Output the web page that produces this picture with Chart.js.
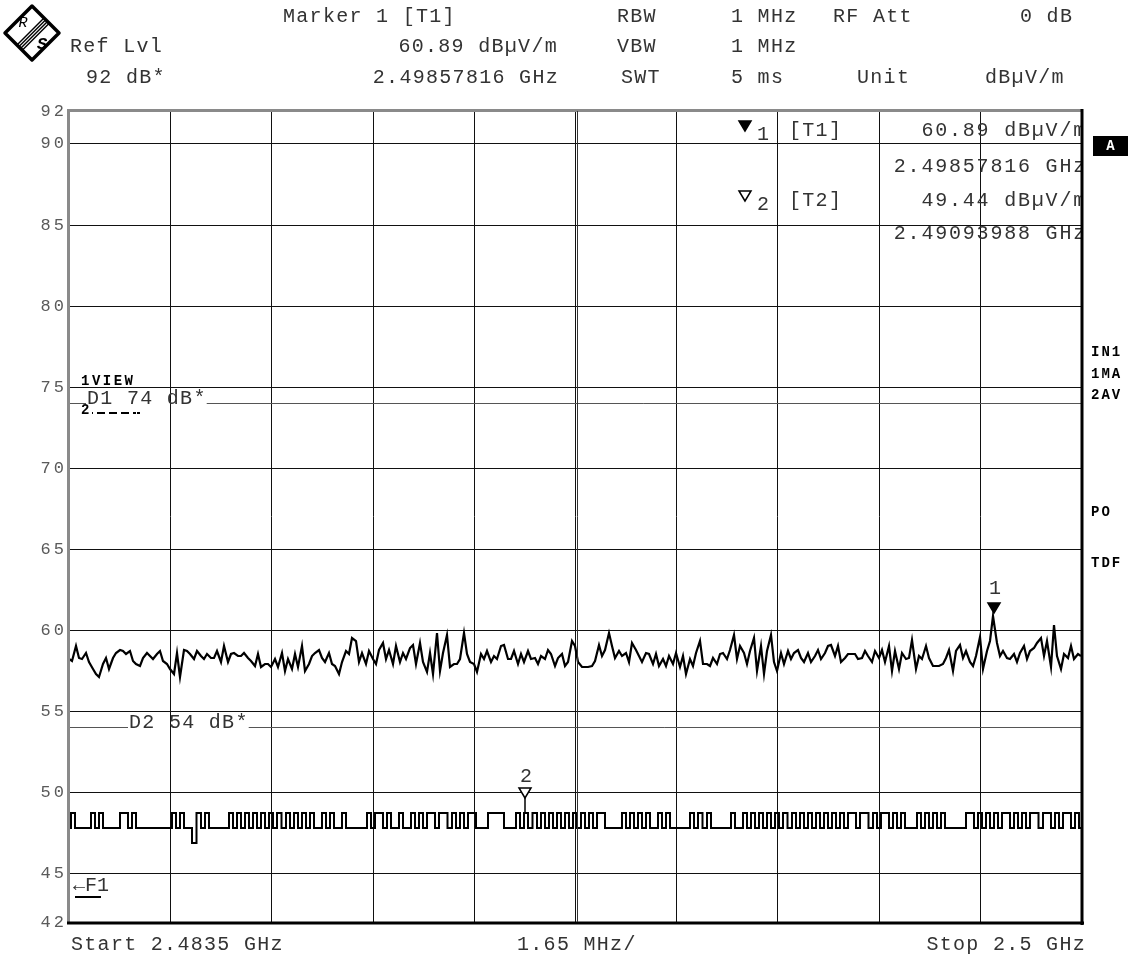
<!DOCTYPE html>
<html>
<head>
<meta charset="utf-8">
<script src="https://cdn.jsdelivr.net/npm/chart.js@4.4.1/dist/chart.umd.min.js"></script>
<style>
  html, body { margin: 0; padding: 0; background: #fff; }
  #wrap { width: 1138px; height: 962px; }
</style>
</head>
<body>
<div id="wrap"><canvas id="spectrum" width="1138" height="962"></canvas></div>
<script>
// sweep 2.4835 GHz .. 2.5 GHz, x values in MHz
const startMHz = 2483.5;
const stopMHz = 2500;
const xGrid = [2483.5, 2485.15, 2486.8, 2488.45, 2490.1, 2491.75, 2493.4, 2495.05, 2496.7, 2498.35, 2500];
const yTicks = [42, 45, 50, 55, 60, 65, 70, 75, 80, 85, 90, 92];

// trace 1 (max hold), dBuV/m, one value every 0.055 MHz
const trace1Step = 0.055;
const trace1 = [
  58.2, 58.1, 59.0, 58.3, 58.2, 58.6, 58.0, 57.6, 57.3, 57.1,
  57.9, 58.3, 57.6, 58.3, 58.6, 58.8, 58.7, 58.5, 58.7, 58.1,
  57.9, 57.8, 58.3, 58.6, 58.4, 58.2, 58.5, 58.7, 58.1, 57.9,
  57.6, 57.3, 58.6, 57.1, 58.8, 58.7, 58.5, 58.2, 58.7, 58.4,
  58.2, 58.5, 58.3, 58.3, 58.7, 58.0, 59.0, 58.0, 58.5, 58.6,
  58.4, 58.4, 58.6, 58.3, 58.1, 57.8, 58.5, 57.7, 57.9, 57.9,
  57.7, 58.2, 57.7, 58.6, 57.5, 58.2, 57.6, 58.5, 57.7, 59.0,
  57.5, 57.9, 58.4, 58.6, 58.8, 58.3, 58.0, 58.6, 57.9, 57.8,
  57.3, 58.0, 58.7, 58.5, 59.5, 59.3, 58.0, 58.6, 57.9, 58.7,
  58.2, 57.9, 58.8, 59.2, 58.2, 58.8, 57.9, 59.0, 58.0, 58.6,
  58.2, 58.9, 59.1, 57.9, 59.2, 58.0, 57.4, 58.6, 57.3, 59.8,
  57.5, 58.6, 59.7, 57.7, 57.9, 57.9, 58.2, 59.8, 58.5, 58.0,
  57.9, 57.4, 58.5, 58.2, 58.7, 58.0, 58.4, 58.2, 59.0, 59.1,
  58.2, 58.2, 58.7, 57.9, 58.5, 58.0, 58.7, 58.2, 58.3, 57.9,
  58.4, 58.2, 58.8, 58.5, 57.8, 58.3, 58.5, 57.8, 58.0, 59.3,
  59.0, 58.0, 57.7, 57.7, 57.7, 57.8, 58.1, 59.1, 58.4, 58.8,
  59.8, 59.0, 58.3, 58.7, 58.4, 58.6, 58.0, 59.2, 58.8, 58.4,
  58.0, 58.6, 58.5, 57.9, 58.5, 57.8, 58.2, 57.8, 58.4, 57.9,
  58.6, 57.7, 58.4, 57.3, 58.2, 57.8, 58.6, 59.3, 57.9, 57.9,
  57.8, 58.3, 57.9, 58.5, 58.6, 58.2, 58.8, 59.7, 58.2, 59.0,
  58.6, 57.9, 58.7, 59.5, 57.5, 59.0, 57.3, 58.7, 59.7, 58.0,
  57.5, 58.6, 57.9, 58.7, 58.2, 58.6, 58.8, 58.3, 58.0, 58.6,
  58.0, 58.4, 58.8, 58.2, 58.6, 59.0, 59.1, 58.4, 59.0, 58.0,
  58.3, 58.5, 58.5, 58.5, 58.2, 58.3, 58.7, 58.4, 58.0, 58.7,
  58.3, 58.8, 58.0, 59.0, 57.5, 58.7, 57.6, 58.6, 58.2, 58.3,
  59.4, 57.6, 58.4, 58.2, 59.0, 58.3, 57.8, 57.8, 57.8, 57.9,
  58.3, 58.8, 57.5, 58.7, 59.1, 58.3, 58.7, 58.0, 57.8, 58.4,
  59.6, 57.6, 58.7, 59.3, 60.89, 59.2, 58.4, 58.7, 58.3, 58.2,
  58.5, 58.0, 58.6, 59.0, 58.2, 58.7, 58.9, 59.2, 59.5, 58.4,
  59.3, 57.7, 60.3, 58.4, 57.6, 58.5, 58.3, 59.0, 58.2, 58.5,
  58.4
];

// trace 2 (average), dBuV/m, one value every 0.066 MHz
const trace2Step = 0.066;
const trace2 = [
  47.8, 48.7, 47.8, 47.8, 47.8, 47.8, 48.7, 47.8, 48.7, 47.8,
  47.8, 47.8, 47.8, 48.7, 48.7, 47.8, 48.7, 47.8, 47.8, 47.8,
  47.8, 47.8, 47.8, 47.8, 47.8, 47.8, 48.7, 47.8, 48.7, 47.8,
  47.8, 46.9, 48.7, 47.8, 48.7, 47.8, 47.8, 47.8, 47.8, 47.8,
  48.7, 47.8, 48.7, 47.8, 48.7, 47.8, 48.7, 47.8, 48.7, 47.8,
  48.7, 47.8, 48.7, 47.8, 48.7, 47.8, 48.7, 47.8, 48.7, 47.8,
  48.7, 47.8, 47.8, 48.7, 47.8, 48.7, 47.8, 47.8, 48.7, 47.8,
  47.8, 47.8, 47.8, 47.8, 48.7, 47.8, 48.7, 48.7, 47.8, 48.7,
  47.8, 47.8, 48.7, 47.8, 47.8, 48.7, 47.8, 48.7, 47.8, 48.7,
  48.7, 47.8, 48.7, 48.7, 47.8, 48.7, 47.8, 48.7, 47.8, 48.7,
  48.7, 47.8, 47.8, 47.8, 48.7, 48.7, 48.7, 48.7, 47.8, 47.8,
  47.8, 48.7, 47.8, 48.7, 47.8, 48.7, 47.8, 48.7, 47.8, 48.7,
  47.8, 48.7, 47.8, 48.7, 47.8, 48.7, 47.8, 48.7, 47.8, 48.7,
  47.8, 48.7, 48.7, 47.8, 47.8, 47.8, 47.8, 48.7, 47.8, 48.7,
  47.8, 48.7, 47.8, 48.7, 47.8, 47.8, 48.7, 47.8, 48.7, 47.8,
  47.8, 47.8, 47.8, 47.8, 48.7, 47.8, 48.7, 47.8, 48.7, 47.8,
  47.8, 47.8, 47.8, 47.8, 48.7, 47.8, 47.8, 48.7, 47.8, 48.7,
  47.8, 48.7, 47.8, 48.7, 47.8, 48.7, 47.8, 48.7, 47.8, 48.7,
  47.8, 48.7, 47.8, 48.7, 47.8, 48.7, 47.8, 48.7, 47.8, 48.7,
  47.8, 48.7, 47.8, 48.7, 48.7, 47.8, 48.7, 48.7, 47.8, 48.7,
  47.8, 48.7, 48.7, 47.8, 48.7, 47.8, 48.7, 47.8, 47.8, 47.8,
  48.7, 47.8, 48.7, 47.8, 48.7, 47.8, 48.7, 47.8, 47.8, 47.8,
  47.8, 47.8, 48.7, 48.7, 47.8, 48.7, 47.8, 48.7, 47.8, 48.7,
  47.8, 48.7, 48.7, 47.8, 48.7, 47.8, 48.7, 47.8, 48.7, 48.7,
  47.8, 48.7, 48.7, 47.8, 48.7, 47.8, 48.7, 48.7, 47.8, 48.7,
  47.8
];

// markers 1 and 2, display lines D1 / D2
const markerFreq = [2498.57816, 2490.93988];
const markerLevel = [60.89, 49.44];
const displayLines = [74, 54];

const MONO = '"Liberation Mono", "DejaVu Sans Mono", monospace';
const TXT = "#333";
const BODY = "20px " + MONO;

function text(ctx, s, x, y, align, font, color, spacing) {
  ctx.font = font || BODY;
  ctx.fillStyle = color || TXT;
  ctx.textAlign = align || "left";
  ctx.textBaseline = "middle";
  ctx.letterSpacing = spacing || "1.3px";
  ctx.fillText(s, x, y);
  return ctx.measureText(s).width;
}

function triangle(ctx, x, tipY, filled) {
  ctx.beginPath();
  ctx.moveTo(x, tipY);
  ctx.lineTo(x - 6, tipY - 10);
  ctx.lineTo(x + 6, tipY - 10);
  ctx.closePath();
  ctx.lineWidth = 1.5;
  ctx.strokeStyle = "#000";
  ctx.fillStyle = filled ? "#000" : "#fff";
  ctx.fill();
  ctx.stroke();
}

function drawLogo(ctx) {
  const cx = 32, cy = 33, r = 27;
  ctx.save();
  ctx.strokeStyle = "#000";
  ctx.lineWidth = 3.5;
  ctx.lineJoin = "round";
  ctx.beginPath();
  ctx.moveTo(cx, cy - r); ctx.lineTo(cx + r, cy); ctx.lineTo(cx, cy + r); ctx.lineTo(cx - r, cy);
  ctx.closePath();
  ctx.stroke();
  ctx.lineWidth = 1.4;
  [-5, -1.5, 2, 5.5].forEach(d => {
    const c = cx + cy + d;
    ctx.beginPath();
    ctx.moveTo((c + 26) / 2 + 1, (c - 26) / 2 + 1);
    ctx.lineTo((c - 28) / 2 + 1, (c + 28) / 2 + 1);
    ctx.stroke();
  });
  ctx.restore();
  text(ctx, "R", 23, 23, "center", "italic 15px " + MONO, "#000", "0px");
  text(ctx, "S", 42, 45, "center", "italic bold 17px " + MONO, "#000", "0px");
}

const screenPlugin = {
  id: "screen",
  beforeDraw(chart) {
    const ctx = chart.ctx;
    ctx.save();
    ctx.fillStyle = "#fff";
    ctx.fillRect(0, 0, chart.width, chart.height);
    ctx.restore();
    ctx.letterSpacing = "3px";
  },
  afterDraw(chart) {
    const ctx = chart.ctx;
    const a = chart.chartArea;
    const xs = chart.scales.x, ys = chart.scales.y;
    ctx.save();

    // display lines D1 / D2 with their labels
    const dl = [["D1 74 dB*", 87], ["D2 54 dB*", 129]];
    displayLines.forEach((lvl, k) => {
      const y = Math.round(ys.getPixelForValue(lvl)) + 0.5;
      ctx.font = BODY;
      ctx.letterSpacing = "1.3px";
      const w = ctx.measureText(dl[k][0]).width;
      ctx.strokeStyle = "#555";
      ctx.lineWidth = 1;
      ctx.beginPath();
      ctx.moveTo(a.left, y); ctx.lineTo(dl[k][1] - 1, y);
      ctx.moveTo(dl[k][1] + w, y); ctx.lineTo(a.right, y);
      ctx.stroke();
      text(ctx, dl[k][0], dl[k][1], y - 5);
    });

    // trace labels at the left
    text(ctx, "1VIEW", 81, 381, "left", "bold 14px " + MONO, "#000", "2.5px");
    text(ctx, "2", 81, 410, "left", "bold 14px " + MONO, "#000", "0px");
    ctx.strokeStyle = "#000";
    ctx.lineWidth = 2;
    ctx.setLineDash([1, 4, 8, 4, 8, 4, 8, 4, 3]);
    ctx.beginPath(); ctx.moveTo(92, 413); ctx.lineTo(140, 413); ctx.stroke();
    ctx.setLineDash([]);

    // frequency line F1
    text(ctx, "\u2190F1", 73, 886, "left", BODY, TXT, "0px");
    ctx.fillStyle = "#000";
    ctx.fillRect(75, 896, 26, 2);

    // markers on the traces
    const m1x = xs.getPixelForValue(markerFreq[0]);
    const m1y = ys.getPixelForValue(markerLevel[0]);
    triangle(ctx, m1x, m1y - 3, true);
    text(ctx, "1", m1x + 1, m1y - 27, "center", BODY, TXT, "0px");
    const m2x = xs.getPixelForValue(markerFreq[1]);
    const m2y = ys.getPixelForValue(markerLevel[1]);
    const m2i = Math.round((markerFreq[1] - startMHz) / trace2Step);
    ctx.strokeStyle = "#000";
    ctx.lineWidth = 1.5;
    ctx.beginPath();
    ctx.moveTo(m2x, m2y - 3);
    ctx.lineTo(m2x, ys.getPixelForValue(trace2[m2i]));
    ctx.stroke();
    triangle(ctx, m2x, m2y - 3, false);
    text(ctx, "2", m2x + 1, m2y - 24, "center", BODY, TXT, "0px");

    // marker table in the upper right of the grid
    ctx.save();
    ctx.beginPath();
    ctx.rect(a.left, a.top, a.right - a.left, a.bottom - a.top);
    ctx.clip();
    const unit = " dB\u00b5V/m";
    const rows = [
      [markerLevel[0].toFixed(2) + unit, 131],
      [(markerFreq[0] / 1000).toFixed(8) + " GHz", 167],
      [markerLevel[1].toFixed(2) + unit, 201],
      [(markerFreq[1] / 1000).toFixed(8) + " GHz", 234]
    ];
    rows.forEach(r => text(ctx, r[0], a.right + 6, r[1], "right", BODY, TXT, "1.8px"));
    ctx.restore();
    triangle(ctx, 745, 131, true);
    text(ctx, "1", 757, 135, "left");
    text(ctx, "[T1]", 789, 131);
    triangle(ctx, 745, 201, false);
    text(ctx, "2", 757, 205, "left");
    text(ctx, "[T2]", 789, 201);

    // frame of the screen
    ctx.fillStyle = "#8a8a8a";
    ctx.fillRect(a.left - 2, a.top - 2, 3, a.bottom - a.top + 3);
    ctx.fillRect(a.left - 2, a.top - 2, a.right - a.left + 2, 3);
    ctx.fillStyle = "#000";
    ctx.fillRect(a.right - 0.5, a.top - 2, 3, a.bottom - a.top + 5);
    ctx.fillRect(a.left - 2, a.bottom - 0.5, a.right - a.left + 5, 3);
    const mid = Math.round(xs.getPixelForValue(xGrid[5])) + 2.5;
    ctx.strokeStyle = "#333";
    ctx.lineWidth = 1;
    ctx.beginPath(); ctx.moveTo(mid, a.top); ctx.lineTo(mid, a.bottom); ctx.stroke();

    // header
    const head = [
      ["Marker 1 [T1]", 283, 17, "left"],
      ["RBW", 617, 17, "left"], ["1 MHz", 731, 17, "left"],
      ["RF Att", 833, 17, "left"], ["0 dB", 1020, 17, "left"],
      ["Ref Lvl", 70, 47, "left"],
      [markerLevel[0].toFixed(2) + unit, 558, 47, "right"],
      ["VBW", 617, 47, "left"], ["1 MHz", 731, 47, "left"],
      ["92 dB*", 86, 78, "left"],
      [(markerFreq[0] / 1000).toFixed(8) + " GHz", 559, 78, "right"],
      ["SWT", 621, 78, "left"], ["5 ms", 731, 78, "left"],
      ["Unit", 857, 78, "left"], ["dB\u00b5V/m", 985, 78, "left"],
      ["Start 2.4835 GHz", 71, 945, "left"],
      ["1.65 MHz/", 517, 945, "left"],
      ["Stop 2.5 GHz", 1086, 945, "right"]
    ];
    head.forEach(h => text(ctx, h[0], h[1], h[2], h[3]));

    drawLogo(ctx);

    // status column at the right
    ctx.fillStyle = "#000";
    ctx.fillRect(1093, 136, 35, 20);
    text(ctx, "A", 1110.5, 146.5, "center", "bold 14px " + MONO, "#fff", "0px");
    [["IN1", 352], ["1MA", 374], ["2AV", 395], ["PO", 512], ["TDF", 563]].forEach(s =>
      text(ctx, s[0], 1091, s[1], "left", "bold 14px " + MONO, "#000", "2px"));

    ctx.restore();
  }
};

const pts1 = trace1.map((v, i) => ({ x: startMHz + i * trace1Step, y: v }));
const pts2 = trace2.map((v, i) => ({ x: startMHz + i * trace2Step, y: v }));

const gridColor = (edge) => (c) =>
  (c.tick && edge.includes(c.tick.value)) ? "rgba(0,0,0,0)" : "#111";

new Chart(document.getElementById("spectrum").getContext("2d"), {
  type: "line",
  data: {
    datasets: [
      { label: "1MA", data: pts1, borderColor: "#000", borderWidth: 2.2, pointRadius: 0, tension: 0 },
      { label: "2AV", data: pts2, borderColor: "#000", borderWidth: 2, pointRadius: 0, stepped: "middle" }
    ]
  },
  options: {
    responsive: false,
    animation: false,
    devicePixelRatio: 1,
    layout: { padding: { top: 111, right: 57, left: 0, bottom: 0 } },
    plugins: { legend: { display: false }, tooltip: { enabled: false }, title: { display: false } },
    scales: {
      x: {
        type: "linear",
        min: startMHz,
        max: stopMHz,
        alignToPixels: true,
        afterBuildTicks: s => { s.ticks = xGrid.map(v => ({ value: v })); },
        afterFit: s => { s.height = 40; },
        ticks: { display: false },
        grid: { color: gridColor([startMHz, stopMHz]), lineWidth: 1, drawTicks: false },
        border: { display: false }
      },
      y: {
        min: 42,
        max: 92,
        alignToPixels: true,
        afterBuildTicks: s => { s.ticks = yTicks.map(v => ({ value: v })); },
        afterFit: s => { s.width = 69; },
        ticks: {
          font: { family: MONO, size: 17 },
          color: "#5a5a5a",
          padding: 2,
          callback: v => String(v)
        },
        grid: { color: gridColor([42, 92]), lineWidth: 1, drawTicks: false },
        border: { display: false }
      }
    }
  },
  plugins: [screenPlugin]
});
</script>
</body>
</html>
